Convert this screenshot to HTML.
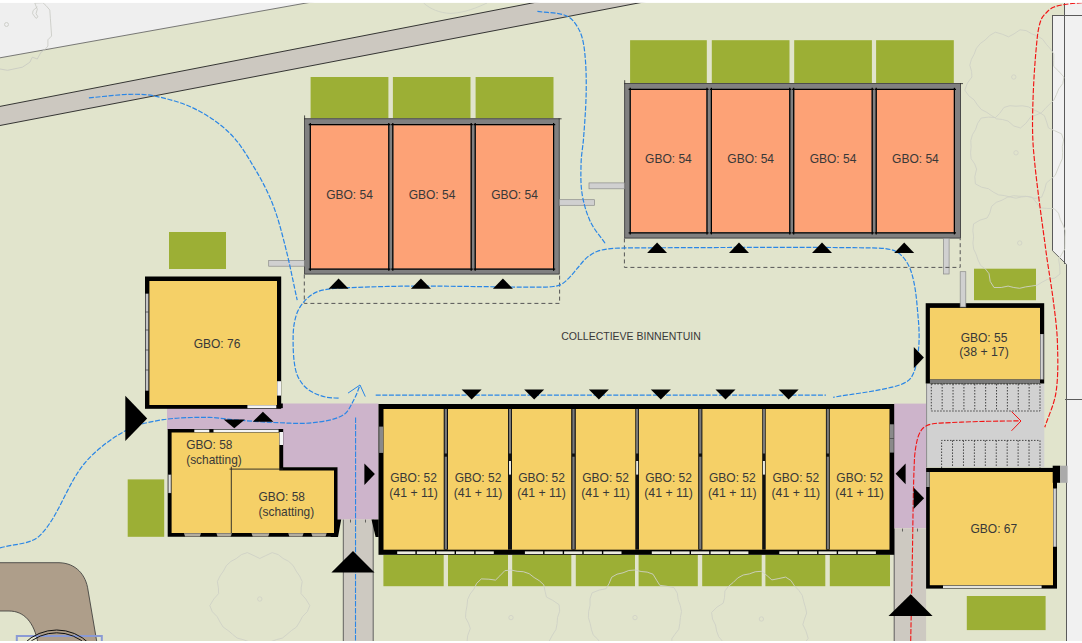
<!DOCTYPE html>
<html><head><meta charset="utf-8"><style>
html,body{margin:0;padding:0;background:#fff;}
svg{display:block;font-family:"Liberation Sans",sans-serif;}
</style></head><body>
<svg width="1082" height="643" viewBox="0 0 1082 643">
<rect x="0.00" y="0.00" width="1082.00" height="643.00" fill="#e1e4cc" />
<polygon points="0.00,0.00 323.00,0.00 0.00,57.80" fill="#efefef" />
<line x1="0.00" y1="57.80" x2="323.00" y2="0.00" stroke="#5a5a5a" stroke-width="0.8" />
<path d="M34.8,3.1 L42.9,2.7 L46,5.6 L49.8,10 L50.4,18.7 L51.6,36 L47.9,39.8 L47.9,46 L44.8,49.8 L41,52.2 L37.3,59 L32.3,57.2 L29.9,62.2 L22.4,67.2 L7.5,70.3 L0,69" fill="none" stroke="#c6c8c2" stroke-width="0.8"/>
<path d="M37.3,6.8 L33,10.6 L32.6,13.7 L36,18.4 L38,16.8 L36,13.7 L37.3,9.3 L34.8,3.1" fill="none" stroke="#c6c8c2" stroke-width="0.8"/>
<circle cx="6.5" cy="24.5" r="2" fill="none" stroke="#c6c8c2" stroke-width="0.8"/>
<path d="M423.6,3 C430,9 440,13 450,13.4 C460,13 470,11 487,3" fill="none" stroke="#cdd0c5" stroke-width="0.8"/>
<polygon points="0.00,106.40 547.50,0.00 654.00,0.00 0.00,125.50" fill="#ccc8c0" />
<line x1="0.00" y1="106.40" x2="547.50" y2="0.00" stroke="#222" stroke-width="0.9" />
<line x1="0.00" y1="125.50" x2="654.00" y2="0.00" stroke="#222" stroke-width="0.9" />
<polygon points="1052.50,15.50 1082.00,15.50 1082.00,643.00 1066.50,643.00 1066.50,264.40 1052.50,250.70" fill="#f1f1f1" />
<rect x="1064.50" y="2.00" width="17.50" height="13.50" fill="#f1f1f1" />
<line x1="1052.50" y1="15.00" x2="1052.50" y2="250.70" stroke="#5a5a5a" stroke-width="1" />
<line x1="1052.00" y1="15.50" x2="1082.00" y2="15.50" stroke="#5a5a5a" stroke-width="1" />
<line x1="1064.50" y1="3.00" x2="1064.50" y2="264.00" stroke="#5a5a5a" stroke-width="1" />
<line x1="1052.50" y1="250.70" x2="1066.50" y2="264.40" stroke="#5a5a5a" stroke-width="0.9" />
<line x1="1066.50" y1="264.40" x2="1066.50" y2="643.00" stroke="#5a5a5a" stroke-width="1" />
<line x1="1065.00" y1="399.50" x2="1082.00" y2="399.50" stroke="#5a5a5a" stroke-width="1" />
<path d="M0,562.7 L59,562.7 C76,563 86,575 88,590 L97,643 L38,643 C34,622 24,611 9,611 L0,611 Z" fill="#ae9e8a"/>
<path d="M0,562.7 L59,562.7 C76,563 86,575 88,590 L97,643 M38,643 C34,622 24,611 9,611 L0,611" fill="none" stroke="#333" stroke-width="0.8"/>
<rect x="16.8" y="636" width="85" height="20" fill="none" stroke="#8a9ad4" stroke-width="2"/>
<circle cx="56.7" cy="676" r="46" fill="none" stroke="#111" stroke-width="1"/>
<circle cx="56.7" cy="676" r="43.2" fill="none" stroke="#111" stroke-width="1"/>
<rect x="310.60" y="77.00" width="77.80" height="41.40" fill="#9caf35" />
<rect x="392.90" y="77.00" width="77.60" height="41.40" fill="#9caf35" />
<rect x="475.60" y="77.00" width="77.90" height="41.40" fill="#9caf35" />
<rect x="630.10" y="40.20" width="76.70" height="42.80" fill="#9caf35" />
<rect x="711.80" y="40.20" width="77.70" height="42.80" fill="#9caf35" />
<rect x="794.20" y="40.20" width="77.70" height="42.80" fill="#9caf35" />
<rect x="876.10" y="40.20" width="77.70" height="42.80" fill="#9caf35" />
<rect x="169.00" y="232.00" width="57.00" height="37.00" fill="#9caf35" />
<rect x="127.70" y="479.40" width="36.50" height="57.40" fill="#9caf35" />
<rect x="383.40" y="554.80" width="60.30" height="31.40" fill="#9caf35" />
<rect x="448.00" y="554.80" width="60.00" height="31.40" fill="#9caf35" />
<rect x="512.20" y="554.80" width="59.10" height="31.40" fill="#9caf35" />
<rect x="575.80" y="554.80" width="59.20" height="31.40" fill="#9caf35" />
<rect x="638.60" y="554.80" width="59.20" height="31.40" fill="#9caf35" />
<rect x="702.20" y="554.80" width="59.50" height="31.40" fill="#9caf35" />
<rect x="765.40" y="554.80" width="59.90" height="31.40" fill="#9caf35" />
<rect x="829.80" y="554.80" width="60.20" height="31.40" fill="#9caf35" />
<rect x="974.00" y="268.70" width="62.00" height="31.50" fill="#9caf35" />
<rect x="966.80" y="596.00" width="78.80" height="34.10" fill="#9caf35" />
<polygon points="305.8,599.0 309.8,605.6 307.3,611.7 302.4,616.7 299.6,622.0 296.4,627.1 291.4,630.6 286.9,634.4 282.4,638.1 276.6,639.6 271.2,641.5 266.1,646.9 259.8,650.5 253.5,646.9 248.4,641.5 243.0,639.6 237.2,638.1 232.7,634.4 228.2,630.6 223.2,627.1 220.0,622.0 217.2,616.7 212.3,611.7 209.8,605.6 213.8,599.0 218.6,593.6 218.4,587.9 217.4,581.5 220.0,576.0 223.4,571.1 226.4,565.6 230.9,561.4 236.4,558.5 241.4,554.6 247.4,552.6 254.1,555.7 259.8,558.5 265.5,555.7 272.2,552.6 278.2,554.6 283.2,558.5 288.7,561.4 293.2,565.6 296.2,571.1 299.6,576.0 302.2,581.5 301.2,587.9 301.0,593.6" fill="none" stroke="#cfd1c6" stroke-width="0.9"/>
<circle cx="259.8" cy="599" r="2.2" fill="none" stroke="#cfd1c6" stroke-width="0.8"/>
<polygon points="557.5,617.6 557.1,623.7 555.9,629.6 552.6,634.8 549.8,640.0 546.9,645.1 541.8,648.4 537.3,651.9 534.8,658.9 530.7,665.1 523.7,664.8 516.8,661.9 511.0,662.0 505.1,662.5 499.5,660.6 494.0,658.7 488.1,657.2 483.3,653.7 478.7,649.9 472.1,647.5 466.9,643.1 467.7,635.5 470.3,628.5 468.5,623.2 465.5,617.6 465.9,611.7 467.0,605.8 467.6,599.6 470.1,594.0 473.9,589.1 476.7,583.3 481.3,578.9 488.8,579.2 495.5,580.1 499.8,575.9 504.8,570.7 511.0,570.0 517.1,571.3 523.3,571.7 529.2,573.7 534.1,577.5 539.3,580.7 543.8,584.8 545.1,591.5 546.5,597.1 552.7,600.3 559.1,604.7 559.7,611.2" fill="none" stroke="#cfd1c6" stroke-width="0.9"/>
<circle cx="511" cy="617.6" r="2.2" fill="none" stroke="#cfd1c6" stroke-width="0.8"/>
<polygon points="680.4,617.6 679.8,623.5 678.8,629.3 675.0,634.2 671.8,638.8 672.2,646.2 671.2,653.8 665.0,656.7 657.7,656.9 652.2,659.2 646.8,661.6 640.8,661.7 635.0,662.0 629.1,662.7 623.4,661.0 617.8,659.2 610.6,659.8 603.8,658.3 601.3,651.3 601.0,643.7 597.7,639.2 593.2,634.9 591.4,629.3 590.2,623.5 588.4,617.6 588.6,611.5 590.0,605.5 590.0,598.9 592.1,592.8 599.2,590.1 606.1,588.7 609.0,583.7 611.7,577.2 617.0,574.2 623.0,572.8 628.8,570.5 635.0,570.0 641.1,571.5 647.2,572.1 653.0,574.2 656.6,580.2 659.8,585.3 666.4,586.2 674.0,587.7 677.3,593.2 678.2,599.7 680.3,605.5 681.5,611.5" fill="none" stroke="#cfd1c6" stroke-width="0.9"/>
<circle cx="635" cy="617.6" r="2.2" fill="none" stroke="#cfd1c6" stroke-width="0.8"/>
<polygon points="804.5,619.0 802.8,624.5 805.9,630.9 808.2,638.4 804.2,643.7 797.9,647.0 793.6,651.2 789.3,655.4 783.7,657.7 778.4,660.0 773.1,662.7 767.2,663.0 761.4,663.3 755.1,666.9 748.1,668.7 742.9,663.7 739.6,656.8 734.9,653.5 729.5,650.9 725.9,646.3 722.6,641.4 718.7,636.7 716.6,631.0 715.5,625.0 712.5,619.0 711.6,612.4 717.0,607.1 723.2,603.2 724.5,597.7 724.9,591.0 728.6,586.2 733.3,582.4 737.7,578.0 743.2,575.0 749.3,573.9 755.2,571.8 761.4,571.3 767.1,575.7 771.9,579.9 778.1,578.7 785.6,577.1 790.9,580.5 794.5,585.9 798.8,590.3 802.3,595.4 803.7,601.5 805.4,607.2 806.7,613.0" fill="none" stroke="#cfd1c6" stroke-width="0.9"/>
<circle cx="761.4" cy="619" r="2.2" fill="none" stroke="#cfd1c6" stroke-width="0.8"/>
<polygon points="1063.9,77.0 1062.8,83.5 1058.7,89.0 1056.4,94.6 1053.9,100.1 1049.4,104.3 1045.3,108.5 1041.3,112.9 1035.8,115.1 1030.5,117.2 1026.1,123.1 1020.5,128.0 1013.8,126.0 1008.0,121.0 1002.4,119.5 996.5,118.8 991.5,115.6 986.7,112.3 981.3,109.5 977.4,104.9 974.1,99.9 968.7,95.7 964.8,90.1 967.4,83.1 971.9,77.0 971.6,71.4 969.8,65.2 971.4,59.4 974.2,54.1 976.4,48.3 980.3,43.5 985.3,39.9 989.8,35.4 995.3,32.2 1002.3,34.2 1008.5,36.8 1013.8,34.0 1020.0,29.8 1026.2,30.6 1031.7,33.8 1037.5,36.0 1042.7,39.3 1046.4,44.4 1050.4,48.9 1053.8,53.9 1053.7,60.5 1053.6,66.3 1058.6,71.1" fill="none" stroke="#cfd1c6" stroke-width="0.9"/>
<circle cx="1013.8" cy="77" r="2.2" fill="none" stroke="#cfd1c6" stroke-width="0.8"/>
<polygon points="1062.6,152.8 1062.3,158.9 1059.7,164.5 1057.4,170.0 1055.2,175.4 1050.6,179.4 1046.3,183.1 1044.6,190.0 1041.6,197.2 1034.9,198.4 1027.7,196.4 1021.8,196.9 1016.0,198.2 1010.2,197.0 1004.5,195.6 998.6,194.9 993.3,192.1 988.4,188.7 981.6,187.2 975.4,183.9 974.8,176.6 976.6,169.1 974.7,163.9 971.1,158.7 970.6,152.8 971.1,146.9 970.8,140.7 972.4,134.8 975.6,129.4 977.6,123.4 981.2,118.0 988.6,117.1 995.6,117.5 999.7,113.4 1003.9,107.5 1009.8,105.7 1016.0,106.2 1022.2,105.8 1028.3,106.8 1033.8,109.9 1039.3,112.4 1044.4,115.7 1046.7,122.1 1048.4,127.9 1054.4,130.6 1061.6,133.9 1063.6,140.0 1062.3,146.7" fill="none" stroke="#cfd1c6" stroke-width="0.9"/>
<circle cx="1016" cy="152.8" r="2.2" fill="none" stroke="#cfd1c6" stroke-width="0.8"/>
<polygon points="1064.9,243.0 1064.8,248.9 1061.7,254.2 1058.6,259.1 1059.7,266.1 1060.0,274.0 1054.8,278.1 1047.6,279.3 1042.2,282.1 1037.2,285.2 1031.3,286.1 1025.5,286.9 1019.7,288.3 1013.8,287.5 1008.1,286.1 1001.2,287.5 994.0,287.5 990.2,281.4 989.0,273.7 985.6,269.2 980.7,265.5 978.1,260.2 976.3,254.6 973.7,249.1 972.9,243.0 973.6,236.9 972.8,230.4 973.6,223.9 980.0,220.1 987.1,218.0 989.8,213.1 991.6,206.3 996.2,202.4 1002.0,200.2 1007.4,197.3 1013.5,195.7 1019.7,196.3 1025.9,196.3 1032.0,197.2 1036.5,202.6 1040.0,207.8 1046.3,208.4 1054.1,208.6 1058.5,213.2 1060.3,219.5 1063.1,225.0 1065.2,230.8 1064.9,237.0" fill="none" stroke="#cfd1c6" stroke-width="0.9"/>
<circle cx="1019.7" cy="243" r="2.2" fill="none" stroke="#cfd1c6" stroke-width="0.8"/>
<rect x="304.20" y="118.40" width="255.40" height="156.00" fill="#808080" />
<rect x="304.60" y="118.80" width="254.60" height="155.20" fill="none" stroke="#3c3c3c" stroke-width="0.8"/>
<line x1="304.60" y1="115.40" x2="304.60" y2="119.40" stroke="#222" stroke-width="0.8" />
<line x1="558.60" y1="118.80" x2="561.60" y2="118.80" stroke="#222" stroke-width="0.8" />
<rect x="310.90" y="125.20" width="77.30" height="143.40" fill="#fda276" />
<line x1="308.70" y1="124.60" x2="390.40" y2="124.60" stroke="#000" stroke-width="1.25" />
<line x1="308.70" y1="269.20" x2="390.40" y2="269.20" stroke="#000" stroke-width="1.25" />
<line x1="310.30" y1="123.00" x2="310.30" y2="270.80" stroke="#000" stroke-width="1.25" />
<line x1="388.80" y1="123.00" x2="388.80" y2="270.80" stroke="#000" stroke-width="1.25" />
<rect x="393.40" y="125.20" width="77.20" height="143.40" fill="#fda276" />
<line x1="391.20" y1="124.60" x2="472.80" y2="124.60" stroke="#000" stroke-width="1.25" />
<line x1="391.20" y1="269.20" x2="472.80" y2="269.20" stroke="#000" stroke-width="1.25" />
<line x1="392.80" y1="123.00" x2="392.80" y2="270.80" stroke="#000" stroke-width="1.25" />
<line x1="471.20" y1="123.00" x2="471.20" y2="270.80" stroke="#000" stroke-width="1.25" />
<rect x="475.80" y="125.20" width="77.20" height="143.40" fill="#fda276" />
<line x1="473.60" y1="124.60" x2="555.20" y2="124.60" stroke="#000" stroke-width="1.25" />
<line x1="473.60" y1="269.20" x2="555.20" y2="269.20" stroke="#000" stroke-width="1.25" />
<line x1="475.20" y1="123.00" x2="475.20" y2="270.80" stroke="#000" stroke-width="1.25" />
<line x1="553.60" y1="123.00" x2="553.60" y2="270.80" stroke="#000" stroke-width="1.25" />
<rect x="624.30" y="83.20" width="336.70" height="155.20" fill="#808080" />
<rect x="624.70" y="83.60" width="335.90" height="154.40" fill="none" stroke="#3c3c3c" stroke-width="0.8"/>
<line x1="624.70" y1="80.20" x2="624.70" y2="84.20" stroke="#222" stroke-width="0.8" />
<line x1="960.00" y1="83.60" x2="963.00" y2="83.60" stroke="#222" stroke-width="0.8" />
<rect x="630.80" y="90.00" width="75.60" height="142.20" fill="#fda276" />
<line x1="628.60" y1="89.40" x2="708.60" y2="89.40" stroke="#000" stroke-width="1.25" />
<line x1="628.60" y1="232.80" x2="708.60" y2="232.80" stroke="#000" stroke-width="1.25" />
<line x1="630.20" y1="87.80" x2="630.20" y2="234.40" stroke="#000" stroke-width="1.25" />
<line x1="707.00" y1="87.80" x2="707.00" y2="234.40" stroke="#000" stroke-width="1.25" />
<rect x="712.00" y="90.00" width="77.20" height="142.20" fill="#fda276" />
<line x1="709.80" y1="89.40" x2="791.40" y2="89.40" stroke="#000" stroke-width="1.25" />
<line x1="709.80" y1="232.80" x2="791.40" y2="232.80" stroke="#000" stroke-width="1.25" />
<line x1="711.40" y1="87.80" x2="711.40" y2="234.40" stroke="#000" stroke-width="1.25" />
<line x1="789.80" y1="87.80" x2="789.80" y2="234.40" stroke="#000" stroke-width="1.25" />
<rect x="794.30" y="90.00" width="77.30" height="142.20" fill="#fda276" />
<line x1="792.10" y1="89.40" x2="873.80" y2="89.40" stroke="#000" stroke-width="1.25" />
<line x1="792.10" y1="232.80" x2="873.80" y2="232.80" stroke="#000" stroke-width="1.25" />
<line x1="793.70" y1="87.80" x2="793.70" y2="234.40" stroke="#000" stroke-width="1.25" />
<line x1="872.20" y1="87.80" x2="872.20" y2="234.40" stroke="#000" stroke-width="1.25" />
<rect x="876.80" y="90.00" width="77.00" height="142.20" fill="#fda276" />
<line x1="874.60" y1="89.40" x2="956.00" y2="89.40" stroke="#000" stroke-width="1.25" />
<line x1="874.60" y1="232.80" x2="956.00" y2="232.80" stroke="#000" stroke-width="1.25" />
<line x1="876.20" y1="87.80" x2="876.20" y2="234.40" stroke="#000" stroke-width="1.25" />
<line x1="954.40" y1="87.80" x2="954.40" y2="234.40" stroke="#000" stroke-width="1.25" />
<text x="349.50" y="199.00" font-size="12.0" text-anchor="middle" fill="#383838">GBO: 54</text>
<text x="432.00" y="199.00" font-size="12.0" text-anchor="middle" fill="#383838">GBO: 54</text>
<text x="514.50" y="199.00" font-size="12.0" text-anchor="middle" fill="#383838">GBO: 54</text>
<text x="668.40" y="163.30" font-size="12.0" text-anchor="middle" fill="#383838">GBO: 54</text>
<text x="750.70" y="163.30" font-size="12.0" text-anchor="middle" fill="#383838">GBO: 54</text>
<text x="833.00" y="163.30" font-size="12.0" text-anchor="middle" fill="#383838">GBO: 54</text>
<text x="915.40" y="163.30" font-size="12.0" text-anchor="middle" fill="#383838">GBO: 54</text>
<rect x="268.70" y="260.50" width="35.60" height="5.70" fill="#d0d0d0" stroke="#8a8a8a" stroke-width="0.7"/>
<rect x="559.50" y="199.70" width="35.00" height="5.60" fill="#d0d0d0" stroke="#8a8a8a" stroke-width="0.7"/>
<rect x="589.00" y="182.90" width="35.30" height="5.90" fill="#d0d0d0" stroke="#8a8a8a" stroke-width="0.7"/>
<rect x="943.60" y="238.40" width="5.50" height="35.60" fill="#d0d0d0" stroke="#8a8a8a" stroke-width="0.7"/>
<path d="M304.3,274.5 L304.3,303.4 L559.6,303.4 L559.6,274.5" fill="none" stroke="#555" stroke-width="1" stroke-dasharray="4 3"/>
<path d="M624.4,238.4 L624.4,267.4 L960.2,267.4 L960.2,238.4" fill="none" stroke="#555" stroke-width="1" stroke-dasharray="4 3"/>
<polygon points="167.00,403.50 378.50,403.50 378.50,519.60 336.50,519.60 336.50,467.00 283.00,467.00 283.00,430.00 167.00,430.00" fill="#cdb4cb" />
<rect x="894.00" y="403.60" width="32.30" height="124.70" fill="#cdb4cb" />
<rect x="343.30" y="519.60" width="29.90" height="123.40" fill="#cdc9c1" />
<line x1="343.30" y1="519.60" x2="343.30" y2="643.00" stroke="#555" stroke-width="0.9" />
<line x1="373.20" y1="519.60" x2="373.20" y2="643.00" stroke="#555" stroke-width="0.9" />
<line x1="350.50" y1="519.60" x2="350.50" y2="522.50" stroke="#333" stroke-width="0.7" />
<line x1="365.50" y1="519.60" x2="365.50" y2="522.50" stroke="#333" stroke-width="0.7" />
<rect x="893.90" y="528.60" width="32.20" height="114.40" fill="#cdc9c1" />
<line x1="894.20" y1="528.60" x2="894.20" y2="643.00" stroke="#555" stroke-width="0.9" />
<line x1="902.50" y1="528.60" x2="902.50" y2="531.50" stroke="#333" stroke-width="0.7" />
<line x1="917.50" y1="528.60" x2="917.50" y2="531.50" stroke="#333" stroke-width="0.7" />
<polygon points="335.40,519.60 341.20,519.60 338.00,537.00 330.50,537.00" fill="#000" />
<polygon points="371.50,519.60 378.70,519.60 378.70,537.00 375.60,537.00" fill="#000" />
<rect x="926.30" y="383.40" width="118.00" height="83.70" fill="#d1d1d1" />
<line x1="926.60" y1="383.40" x2="926.60" y2="467.50" stroke="#8c8c8c" stroke-width="1" />
<g stroke="#333" stroke-width="0.9" stroke-dasharray="1.5 1.5" fill="none">
<rect x="931.3" y="384" width="108.7" height="27"/>
<line x1="942.17" y1="384" x2="942.17" y2="411"/>
<line x1="953.04" y1="384" x2="953.04" y2="411"/>
<line x1="963.91" y1="384" x2="963.91" y2="411"/>
<line x1="974.78" y1="384" x2="974.78" y2="411"/>
<line x1="985.65" y1="384" x2="985.65" y2="411"/>
<line x1="996.52" y1="384" x2="996.52" y2="411"/>
<line x1="1007.39" y1="384" x2="1007.39" y2="411"/>
<line x1="1018.26" y1="384" x2="1018.26" y2="411"/>
<line x1="1029.13" y1="384" x2="1029.13" y2="411"/>
<path d="M941.6,468 L941.6,440.4 L1040,440.4 L1040,468"/>
<line x1="952.53" y1="440.4" x2="952.53" y2="467"/>
<line x1="963.46" y1="440.4" x2="963.46" y2="467"/>
<line x1="974.39" y1="440.4" x2="974.39" y2="467"/>
<line x1="985.32" y1="440.4" x2="985.32" y2="467"/>
<line x1="996.25" y1="440.4" x2="996.25" y2="467"/>
<line x1="1007.18" y1="440.4" x2="1007.18" y2="467"/>
<line x1="1018.11" y1="440.4" x2="1018.11" y2="467"/>
<line x1="1029.04" y1="440.4" x2="1029.04" y2="467"/>
</g>
<rect x="145.00" y="276.50" width="136.20" height="132.30" fill="#000" />
<rect x="149.40" y="281.00" width="127.60" height="124.00" fill="#f5d067" />
<rect x="145.50" y="293.60" width="3.00" height="97.10" fill="#a8a8a8" />
<rect x="146.60" y="294.00" width="0.80" height="96.30" fill="#f0f0f0" />
<line x1="145.50" y1="312.00" x2="148.50" y2="312.00" stroke="#222" stroke-width="0.6" />
<line x1="145.50" y1="330.00" x2="148.50" y2="330.00" stroke="#222" stroke-width="0.6" />
<line x1="145.50" y1="350.00" x2="148.50" y2="350.00" stroke="#222" stroke-width="0.6" />
<line x1="145.50" y1="370.00" x2="148.50" y2="370.00" stroke="#222" stroke-width="0.6" />
<rect x="277.20" y="381.20" width="3.80" height="14.40" fill="#f4f4f4" />
<rect x="247.40" y="405.20" width="28.90" height="3.00" fill="#f4f4f4" />
<rect x="278.20" y="403.50" width="4.60" height="4.60" fill="#000" />
<text x="217.00" y="348.40" font-size="12.0" text-anchor="middle" fill="#383838">GBO: 76</text>
<rect x="925.70" y="303.20" width="118.50" height="80.30" fill="#000" />
<rect x="929.90" y="307.90" width="110.10" height="71.60" fill="#f5d067" />
<rect x="929.90" y="379.50" width="110.10" height="3.50" fill="#7a7a7a" />
<rect x="1040.20" y="334.00" width="3.40" height="45.50" fill="#a8a8a8" />
<rect x="1041.40" y="334.50" width="1.00" height="44.50" fill="#f0f0f0" />
<rect x="960.20" y="271.70" width="5.60" height="35.30" fill="#d0d0d0" stroke="#8a8a8a" stroke-width="0.7"/>
<text x="984.00" y="342.30" font-size="12.0" text-anchor="middle" fill="#383838">GBO: 55</text>
<text x="984.00" y="356.00" font-size="12.3" text-anchor="middle" fill="#383838">(38 + 17)</text>
<rect x="926.10" y="467.90" width="130.90" height="120.70" fill="#000" />
<rect x="929.80" y="472.00" width="123.20" height="113.20" fill="#f5d067" />
<rect x="926.30" y="472.00" width="3.30" height="15.00" fill="#9a9a9a" />
<rect x="1053.20" y="488.40" width="3.40" height="58.40" fill="#a8a8a8" />
<rect x="1054.40" y="489.00" width="1.00" height="57.30" fill="#f0f0f0" />
<rect x="943.00" y="585.60" width="98.60" height="2.60" fill="#e4e4de" />
<rect x="1052.70" y="465.70" width="7.50" height="17.10" fill="#000" />
<rect x="1060.20" y="465.70" width="7.40" height="17.10" fill="#aaaaaa" />
<text x="993.80" y="532.60" font-size="12.0" text-anchor="middle" fill="#383838">GBO: 67</text>
<rect x="378.50" y="404.00" width="515.70" height="150.80" fill="#000" />
<rect x="383.50" y="409.00" width="506.00" height="140.70" fill="#f5d067" />
<rect x="379.20" y="426.60" width="4.10" height="26.30" fill="#8a8a8a" />
<rect x="889.80" y="424.30" width="4.00" height="28.30" fill="#8a8a8a" />
<line x1="889.80" y1="438.50" x2="893.80" y2="438.50" stroke="#333" stroke-width="0.6" />
<rect x="443.70" y="409.00" width="4.30" height="140.70" fill="#111" />
<rect x="444.75" y="409.00" width="2.20" height="44.50" fill="#7a7a7a" />
<rect x="444.75" y="456.70" width="2.20" height="92.30" fill="#7a7a7a" />
<rect x="508.00" y="409.00" width="4.00" height="140.70" fill="#111" />
<rect x="508.90" y="409.00" width="2.20" height="44.50" fill="#7a7a7a" />
<rect x="509.00" y="461.00" width="2.00" height="13.60" fill="#e8e8e0" />
<rect x="571.20" y="409.00" width="4.60" height="140.70" fill="#111" />
<rect x="572.40" y="409.00" width="2.20" height="44.50" fill="#7a7a7a" />
<rect x="572.40" y="456.70" width="2.20" height="92.30" fill="#7a7a7a" />
<rect x="635.30" y="409.00" width="3.70" height="140.70" fill="#111" />
<rect x="636.05" y="409.00" width="2.20" height="44.50" fill="#7a7a7a" />
<rect x="636.15" y="461.00" width="2.00" height="13.60" fill="#e8e8e0" />
<rect x="698.20" y="409.00" width="4.20" height="140.70" fill="#111" />
<rect x="699.20" y="409.00" width="2.20" height="44.50" fill="#7a7a7a" />
<rect x="699.20" y="456.70" width="2.20" height="92.30" fill="#7a7a7a" />
<rect x="762.20" y="409.00" width="3.50" height="140.70" fill="#111" />
<rect x="762.85" y="409.00" width="2.20" height="44.50" fill="#7a7a7a" />
<rect x="762.95" y="461.00" width="2.00" height="13.60" fill="#e8e8e0" />
<rect x="825.90" y="409.00" width="3.90" height="140.70" fill="#111" />
<rect x="826.75" y="409.00" width="2.20" height="44.50" fill="#7a7a7a" />
<rect x="826.75" y="456.70" width="2.20" height="92.30" fill="#7a7a7a" />
<rect x="397.20" y="551.40" width="18.20" height="2.60" fill="#ecebe0" />
<rect x="416.80" y="551.40" width="18.20" height="2.60" fill="#ecebe0" />
<rect x="436.40" y="551.40" width="18.20" height="2.60" fill="#ecebe0" />
<rect x="456.00" y="551.40" width="18.20" height="2.60" fill="#ecebe0" />
<rect x="475.60" y="551.40" width="18.20" height="2.60" fill="#ecebe0" />
<rect x="524.90" y="551.40" width="18.20" height="2.60" fill="#ecebe0" />
<rect x="544.50" y="551.40" width="18.20" height="2.60" fill="#ecebe0" />
<rect x="564.10" y="551.40" width="18.20" height="2.60" fill="#ecebe0" />
<rect x="583.70" y="551.40" width="18.20" height="2.60" fill="#ecebe0" />
<rect x="603.30" y="551.40" width="18.20" height="2.60" fill="#ecebe0" />
<rect x="651.80" y="551.40" width="18.20" height="2.60" fill="#ecebe0" />
<rect x="671.40" y="551.40" width="18.20" height="2.60" fill="#ecebe0" />
<rect x="691.00" y="551.40" width="18.20" height="2.60" fill="#ecebe0" />
<rect x="710.60" y="551.40" width="18.20" height="2.60" fill="#ecebe0" />
<rect x="730.20" y="551.40" width="18.20" height="2.60" fill="#ecebe0" />
<rect x="779.30" y="551.40" width="18.20" height="2.60" fill="#ecebe0" />
<rect x="798.90" y="551.40" width="18.20" height="2.60" fill="#ecebe0" />
<rect x="818.50" y="551.40" width="18.20" height="2.60" fill="#ecebe0" />
<rect x="838.10" y="551.40" width="18.20" height="2.60" fill="#ecebe0" />
<rect x="857.70" y="551.40" width="18.20" height="2.60" fill="#ecebe0" />
<text x="413.60" y="482.20" font-size="12.0" text-anchor="middle" fill="#383838">GBO: 52</text>
<text x="413.60" y="496.60" font-size="12.3" text-anchor="middle" fill="#383838">(41 + 11)</text>
<text x="478.00" y="482.20" font-size="12.0" text-anchor="middle" fill="#383838">GBO: 52</text>
<text x="478.00" y="496.60" font-size="12.3" text-anchor="middle" fill="#383838">(41 + 11)</text>
<text x="541.60" y="482.20" font-size="12.0" text-anchor="middle" fill="#383838">GBO: 52</text>
<text x="541.60" y="496.60" font-size="12.3" text-anchor="middle" fill="#383838">(41 + 11)</text>
<text x="605.55" y="482.20" font-size="12.0" text-anchor="middle" fill="#383838">GBO: 52</text>
<text x="605.55" y="496.60" font-size="12.3" text-anchor="middle" fill="#383838">(41 + 11)</text>
<text x="668.60" y="482.20" font-size="12.0" text-anchor="middle" fill="#383838">GBO: 52</text>
<text x="668.60" y="496.60" font-size="12.3" text-anchor="middle" fill="#383838">(41 + 11)</text>
<text x="732.30" y="482.20" font-size="12.0" text-anchor="middle" fill="#383838">GBO: 52</text>
<text x="732.30" y="496.60" font-size="12.3" text-anchor="middle" fill="#383838">(41 + 11)</text>
<text x="795.80" y="482.20" font-size="12.0" text-anchor="middle" fill="#383838">GBO: 52</text>
<text x="795.80" y="496.60" font-size="12.3" text-anchor="middle" fill="#383838">(41 + 11)</text>
<text x="859.65" y="482.20" font-size="12.0" text-anchor="middle" fill="#383838">GBO: 52</text>
<text x="859.65" y="496.60" font-size="12.3" text-anchor="middle" fill="#383838">(41 + 11)</text>
<polygon points="167.70,429.10 283.20,429.10 283.20,467.20 337.50,467.20 337.50,536.80 167.70,536.80" fill="#000" />
<polygon points="171.60,432.40 279.30,432.40 279.30,470.60 334.00,470.60 334.00,533.00 171.60,533.00" fill="#f5d067" />
<line x1="231.30" y1="466.70" x2="231.30" y2="536.00" stroke="#222" stroke-width="0.9" />
<line x1="229.50" y1="469.10" x2="283.00" y2="469.10" stroke="#222" stroke-width="0.9" />
<rect x="194.30" y="429.60" width="84.30" height="2.60" fill="#f4f4f4" />
<rect x="209.30" y="429.10" width="4.20" height="3.30" fill="#000" />
<rect x="279.50" y="432.00" width="3.50" height="13.00" fill="#f4f4f4" />
<rect x="168.20" y="474.60" width="3.00" height="18.50" fill="#a8a8a8" />
<rect x="169.20" y="475.00" width="1.00" height="17.60" fill="#f0f0f0" />
<polygon points="183.90,533.20 201.00,533.20 199.80,536.40 185.10,536.40" fill="#b3ad9f" />
<polygon points="216.40,533.20 231.80,533.20 230.60,536.40 217.60,536.40" fill="#b3ad9f" />
<polygon points="251.50,533.20 269.40,533.20 268.20,536.40 252.70,536.40" fill="#b3ad9f" />
<polygon points="288.20,533.20 303.60,533.20 302.40,536.40 289.40,536.40" fill="#b3ad9f" />
<polygon points="311.30,533.20 326.70,533.20 325.50,536.40 312.50,536.40" fill="#b3ad9f" />
<text x="186.20" y="448.90" font-size="11.9" text-anchor="start" fill="#383838">GBO: 58</text>
<text x="186.20" y="463.50" font-size="11.9" text-anchor="start" fill="#383838">(schatting)</text>
<text x="258.60" y="500.80" font-size="11.9" text-anchor="start" fill="#383838">GBO: 58</text>
<text x="258.60" y="515.90" font-size="11.9" text-anchor="start" fill="#383838">(schatting)</text>
<path d="M88.90,97.90 C102.60,96.70 116.29,94.67 130.00,94.30 C138.36,94.07 146.97,94.29 155.10,96.10 C168.43,99.06 182.24,102.53 194.40,108.60 C207.27,115.03 220.06,123.47 230.20,133.60 C240.36,143.74 247.83,156.93 255.30,169.40 C262.13,180.80 268.32,192.82 273.10,205.20 C278.45,219.05 282.04,233.66 285.70,248.10 C290.07,265.33 293.37,282.83 297.20,300.20" fill="none" stroke="#2a86e6" stroke-width="1.2" stroke-dasharray="5 1.6" stroke-linecap="butt"/>
<path d="M537.40,11.40 C547.37,13.00 558.70,12.20 567.30,16.20 C572.80,18.76 576.96,25.44 579.70,31.10 C582.76,37.44 583.92,45.05 584.70,52.20 C586.09,65.01 586.37,78.07 586.20,91.00 C586.00,106.61 584.71,122.22 583.60,137.80 C583.01,146.12 581.32,154.38 581.10,162.70 C580.82,173.08 580.48,183.71 582.10,193.90 C583.62,203.44 586.42,213.18 590.50,221.90 C594.19,229.78 600.43,236.43 605.40,243.70" fill="none" stroke="#2a86e6" stroke-width="1.2" stroke-dasharray="5 1.6" stroke-linecap="butt"/>
<path d="M338.60,398.20 C334.57,397.87 330.43,398.03 326.50,397.20 C322.33,396.33 318.09,395.01 314.30,393.10 C310.66,391.27 306.97,388.93 304.20,386.00 C301.27,382.90 298.79,378.97 297.20,375.00 C295.43,370.57 294.67,365.59 294.10,360.80 C293.30,354.13 293.10,347.33 293.10,340.60 C293.10,335.20 293.21,329.70 294.10,324.40 C294.91,319.60 296.10,314.64 298.20,310.30 C300.17,306.24 303.10,302.40 306.30,299.20 C309.17,296.33 312.72,293.78 316.40,292.10 C320.12,290.41 324.40,289.70 328.50,289.10 C334.50,288.23 340.62,287.91 346.70,287.70 C369.22,286.91 391.76,286.16 414.30,286.10 C456.20,285.99 498.11,287.08 540.00,287.20 C544.41,287.21 548.85,287.05 553.20,286.50 C555.91,286.15 558.84,285.78 561.20,284.50 C564.14,282.91 566.68,280.32 569.10,277.90 C571.95,275.05 574.35,271.75 577.00,268.70 C580.08,265.15 582.78,261.14 586.30,258.10 C589.42,255.41 593.11,253.07 596.90,251.50 C600.61,249.97 604.79,249.41 608.80,248.80 C612.29,248.27 615.86,248.21 619.40,248.10 C626.26,247.88 633.13,247.81 640.00,247.80 C715.87,247.74 791.81,246.69 867.60,247.90 C877.38,248.06 888.78,247.58 896.70,251.90 C903.32,255.51 908.77,264.11 911.20,271.70 C915.97,286.58 916.87,303.36 918.30,319.30 C919.24,329.80 919.57,340.60 918.30,351.00 C917.20,360.00 915.93,370.54 911.20,377.50 C907.83,382.44 900.24,385.11 894.00,386.70 C874.24,391.71 853.47,393.77 833.20,397.30" fill="none" stroke="#2a86e6" stroke-width="1.2" stroke-dasharray="5 1.6" stroke-linecap="butt"/>
<path d="M375.7,395.2 L825.9,395.2" fill="none" stroke="#2a86e6" stroke-width="1.2" stroke-dasharray="5 1.6" stroke-linecap="butt"/>
<path d="M0.00,548.00 C13.33,543.80 30.67,544.73 40.00,535.40 C58.67,516.73 66.53,485.32 84.00,464.00 C95.20,450.32 110.65,439.00 126.00,430.40 C137.02,424.23 150.47,421.67 163.10,419.70 C178.23,417.34 193.92,417.40 209.30,417.40 C217.02,417.40 224.69,419.11 232.40,419.70 C247.79,420.88 263.19,422.13 278.60,422.70 C290.15,423.13 301.90,424.06 313.30,422.70 C323.47,421.49 335.01,419.98 343.30,415.00 C348.88,411.65 351.54,403.73 354.90,397.70 C357.11,393.73 358.30,389.23 360.00,385.00" fill="none" stroke="#2a86e6" stroke-width="1.2" stroke-dasharray="5 1.6" stroke-linecap="butt"/>
<path d="M348,393.1 L360,385 L365.3,396.6" fill="none" stroke="#2a86e6" stroke-width="1.0" />
<path d="M355.6,417.5 L355.5,641" fill="none" stroke="#2a86e6" stroke-width="1.1" stroke-dasharray="5.5 1.3"/>
<path d="M1082.00,2.60 C1076.20,3.23 1070.35,3.60 1064.60,4.50 C1061.02,5.06 1057.33,5.70 1054.00,7.00 C1051.80,7.86 1049.68,9.32 1048.00,11.00 C1045.35,13.65 1042.31,16.53 1041.00,20.00 C1038.65,26.20 1037.68,33.25 1037.00,40.00 C1035.01,59.91 1033.64,79.98 1033.00,100.00 C1032.47,116.65 1032.08,133.42 1033.50,150.00 C1036.35,183.42 1041.43,216.70 1045.80,250.00 C1047.99,266.70 1051.09,283.29 1053.20,300.00 C1054.96,313.96 1056.97,327.96 1057.40,342.00 C1057.91,358.76 1058.43,375.94 1056.00,392.40 C1054.23,404.37 1048.53,415.67 1044.80,427.30" fill="none" stroke="#f21414" stroke-width="1.15" stroke-dasharray="5.2 1.6"/>
<path d="M910.70,641.00 C911.23,614.00 911.75,587.00 912.30,560.00 C912.98,526.67 912.97,493.27 914.40,460.00 C914.71,452.86 915.81,445.64 917.50,438.75 C918.31,435.44 919.95,432.13 921.90,429.40 C923.08,427.74 925.06,426.53 926.90,425.60 C928.76,424.65 930.92,424.15 933.00,423.75 C935.29,423.31 937.66,423.21 940.00,423.10 C953.33,422.46 966.66,421.88 980.00,421.50 C993.66,421.11 1007.33,421.03 1021.00,420.80" fill="none" stroke="#f21414" stroke-width="1.1" stroke-dasharray="5.2 1.6"/>
<path d="M1011.5,411.5 L1021,421 L1011.5,430.8" fill="none" stroke="#f21414" stroke-width="1.0" />
<polygon points="338.60,278.40 328.60,288.70 348.60,288.70" fill="#000" />
<polygon points="420.90,278.40 410.90,288.70 430.90,288.70" fill="#000" />
<polygon points="502.90,278.40 492.90,288.70 512.90,288.70" fill="#000" />
<polygon points="657.10,242.40 647.10,253.00 667.10,253.00" fill="#000" />
<polygon points="739.00,242.40 729.00,253.00 749.00,253.00" fill="#000" />
<polygon points="822.00,242.40 812.00,253.00 832.00,253.00" fill="#000" />
<polygon points="904.20,242.40 894.20,253.00 914.20,253.00" fill="#000" />
<polygon points="471.60,399.50 461.60,389.50 481.60,389.50" fill="#000" />
<polygon points="534.20,399.50 524.20,389.50 544.20,389.50" fill="#000" />
<polygon points="598.90,399.50 588.90,389.50 608.90,389.50" fill="#000" />
<polygon points="660.80,399.50 650.80,389.50 670.80,389.50" fill="#000" />
<polygon points="725.50,399.50 715.50,389.50 735.50,389.50" fill="#000" />
<polygon points="788.60,399.50 778.60,389.50 798.60,389.50" fill="#000" />
<polygon points="125.30,395.70 125.30,441.00 147.20,418.40" fill="#000" />
<polygon points="223.70,419.60 244.90,419.60 234.30,428.30" fill="#000" />
<polygon points="252.80,421.70 273.40,421.70 262.90,411.70" fill="#000" />
<polygon points="364.40,463.40 364.40,484.90 374.90,474.00" fill="#000" />
<polygon points="905.60,463.40 905.60,484.20 895.60,473.70" fill="#000" />
<polygon points="913.60,487.60 913.60,509.00 924.10,498.30" fill="#000" />
<polygon points="913.80,347.00 913.80,368.20 923.90,357.60" fill="#000" />
<polygon points="353.00,551.00 331.40,572.50 374.50,572.50" fill="#000" />
<polygon points="910.70,594.30 888.50,616.00 932.60,616.00" fill="#000" />
<text x="631.00" y="340.30" font-size="10.5" text-anchor="middle" fill="#383838">COLLECTIEVE BINNENTUIN</text>
<rect x="0.00" y="0.00" width="1082.00" height="2.90" fill="#ffffff" />
<rect x="0.00" y="641.00" width="1082.00" height="2.00" fill="#ffffff" />
</svg>
</body></html>
